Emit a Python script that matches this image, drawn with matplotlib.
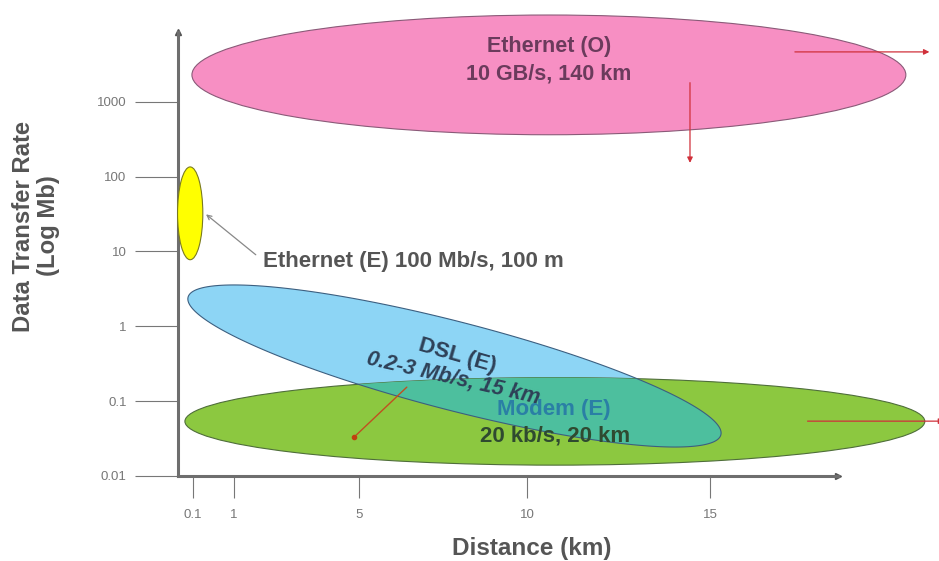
import numpy as np
import matplotlib
matplotlib.use('Agg')
import matplotlib.pyplot as plt
from matplotlib.patches import Ellipse, Polygon

plt.rcParams['font.family'] = ['Liberation Sans', 'DejaVu Sans']

# axis ticks (x is a schematic distance axis, y is log10 of the rate)
x_tick_pos = [0.27, 1.44, 5.0, 9.79, 15.0]
x_tick_labels = ['0.1', '1', '5', '10', '15']
y_tick_pos = [-2, -1, 0, 1, 2, 3]
y_tick_labels = ['0.01', '0.1', '1', '10', '100', '1000']

# regions: centre x, centre log10(rate), width, height in decades
eth_o = (10.41, 3.36, 20.34, 1.60)
eth_e = (0.19, 1.51, 0.72, 1.24)
modem = (10.58, -1.27, 21.08, 1.17)
# DSL is tilted: ends of the long axis + half thickness (decades)
dsl_ends = [(0.13, 0.39), (15.31, -1.45)]
dsl_half = 0.59

# red "extends further" arrows: (start, end)
red_arrows = [((17.34, 3.667), (21.33, 3.667)),
              ((14.43, 3.293), (14.43, 2.147)),
              ((17.70, -1.267), (21.75, -1.267))]
dsl_pointer = ((6.42, -0.787), (4.86, -1.48))
eth_e_pointer = ((2.12, 0.933), (0.58, 1.52))

xlim = (-0.157, 18.647)
ylim = (-2.0, 3.933)

fig = plt.figure(figsize=(9.39, 5.61), dpi=100)
ax = fig.add_axes([178 / 939, 85 / 561, 660 / 939, 444 / 561])
ax.set_xlim(xlim)
ax.set_ylim(ylim)

# px per unit ratio, so the tilted ellipse looks right on screen
K = (444 / (ylim[1] - ylim[0])) / (660 / (xlim[1] - xlim[0]))


def tilted_ellipse(p0, p1, half, n=300):
    x0, y0 = p0[0], p0[1] * K
    x1, y1 = p1[0], p1[1] * K
    cx, cy = (x0 + x1) / 2, (y0 + y1) / 2
    a = np.hypot(x1 - x0, y1 - y0) / 2
    b = half * K
    ang = np.arctan2(y1 - y0, x1 - x0)
    t = np.linspace(0, 2 * np.pi, n)
    xs = cx + a * np.cos(t) * np.cos(ang) - b * np.sin(t) * np.sin(ang)
    ys = cy + a * np.cos(t) * np.sin(ang) + b * np.sin(t) * np.cos(ang)
    return np.column_stack([xs, ys / K])


pink = Ellipse(eth_o[:2], eth_o[2], eth_o[3], fc='#f78fc3', ec='#8a5a78', lw=0.8, clip_on=False, zorder=3)
ax.add_patch(pink)
yel = Ellipse(eth_e[:2], eth_e[2], eth_e[3], fc='#ffff00', ec='#7a7a20', lw=0.8, clip_on=False, zorder=3)
ax.add_patch(yel)

dsl_pts = tilted_ellipse(*dsl_ends, dsl_half)
ax.add_patch(Polygon(dsl_pts, closed=True, fc='#8dd5f5', ec='none', clip_on=False, zorder=3))
green = Ellipse(modem[:2], modem[2], modem[3], fc='#8cc840', ec='#4f6e3a', lw=0.8, clip_on=False, zorder=3)
ax.add_patch(green)
teal = Polygon(dsl_pts, closed=True, fc='#4dbf9e', ec='none', zorder=3)
ax.add_patch(teal)
teal.set_clip_path(green)
ax.add_patch(Polygon(dsl_pts, closed=True, fc='none', ec='#3c5f80', lw=0.8, clip_on=False, zorder=3))

# axes look
for s in ['top', 'right']:
    ax.spines[s].set_visible(False)
for s in ['left', 'bottom']:
    ax.spines[s].set_color('#6e6e6e')
    ax.spines[s].set_linewidth(2.2)
ax.plot(1, 0, '>', color='#555555', ms=5, transform=ax.transAxes, clip_on=False)
ax.plot(0, 1, '^', color='#555555', ms=5, transform=ax.transAxes, clip_on=False)

ax.set_xticks(x_tick_pos)
ax.set_xticklabels(x_tick_labels)
ax.set_yticks(y_tick_pos)
ax.set_yticklabels(y_tick_labels)
ax.tick_params(axis='y', length=31, width=0.8, color='#777777', pad=6, labelsize=9.5, labelcolor='#777777')
ax.tick_params(axis='x', length=16, width=0.8, color='#777777', pad=8, labelsize=9.5, labelcolor='#777777')

fig.text(36 / 939, 1 - 226 / 561, 'Data Transfer Rate\n(Log Mb)', rotation=90, ha='center', va='center',
         fontsize=17.2, fontweight='bold', color='#555555', linespacing=1.1)
fig.text(532 / 939, 1 - 548 / 561, 'Distance (km)', ha='center', va='center',
         fontsize=17.5, fontweight='bold', color='#555555')

# region labels
ax.text(10.41, 3.55, 'Ethernet (O)\n10 GB/s, 140 km', ha='center', va='center', fontsize=15.5,
        fontweight='bold', color='#6b3b5c', linespacing=1.4, zorder=5)
ax.text(2.27, 0.867, 'Ethernet (E) 100 Mb/s, 100 m', ha='left', va='center', fontsize=16,
        fontweight='bold', color='#555555', zorder=5)
ax.text(7.79, -0.40, 'DSL (E)', ha='center', va='center', fontsize=16, rotation=-16,
        fontweight='bold', color='#2e4057', zorder=5)
ax.text(7.68, -0.693, '0.2-3 Mb/s, 15 km', ha='center', va='center', fontsize=15.5, rotation=-13,
        fontweight='bold', style='italic', color='#2e4057', zorder=5)
ax.text(10.56, -1.107, 'Modem (E)', ha='center', va='center', fontsize=16,
        fontweight='bold', color='#2a7fa5', zorder=5)
ax.text(10.58, -1.467, '20 kb/s, 20 km', ha='center', va='center', fontsize=16,
        fontweight='bold', color='#2f4a30', zorder=5)

# pointers
for start, end in red_arrows:
    ax.annotate('', xy=end, xytext=start, annotation_clip=False, zorder=6,
                arrowprops=dict(arrowstyle='-|>', color='#d0303a', lw=0.9, mutation_scale=8))
ax.annotate('', xy=dsl_pointer[1], xytext=dsl_pointer[0], annotation_clip=False, zorder=6,
            arrowprops=dict(arrowstyle='-', color='#c05020', lw=1.0))
ax.plot(*dsl_pointer[1], 'o', color='#c04010', ms=3, zorder=6)
ax.annotate('', xy=eth_e_pointer[1], xytext=eth_e_pointer[0], annotation_clip=False, zorder=6,
            arrowprops=dict(arrowstyle='->', color='#888888', lw=0.9, mutation_scale=8))

fig.savefig('out.png', dpi=100)
